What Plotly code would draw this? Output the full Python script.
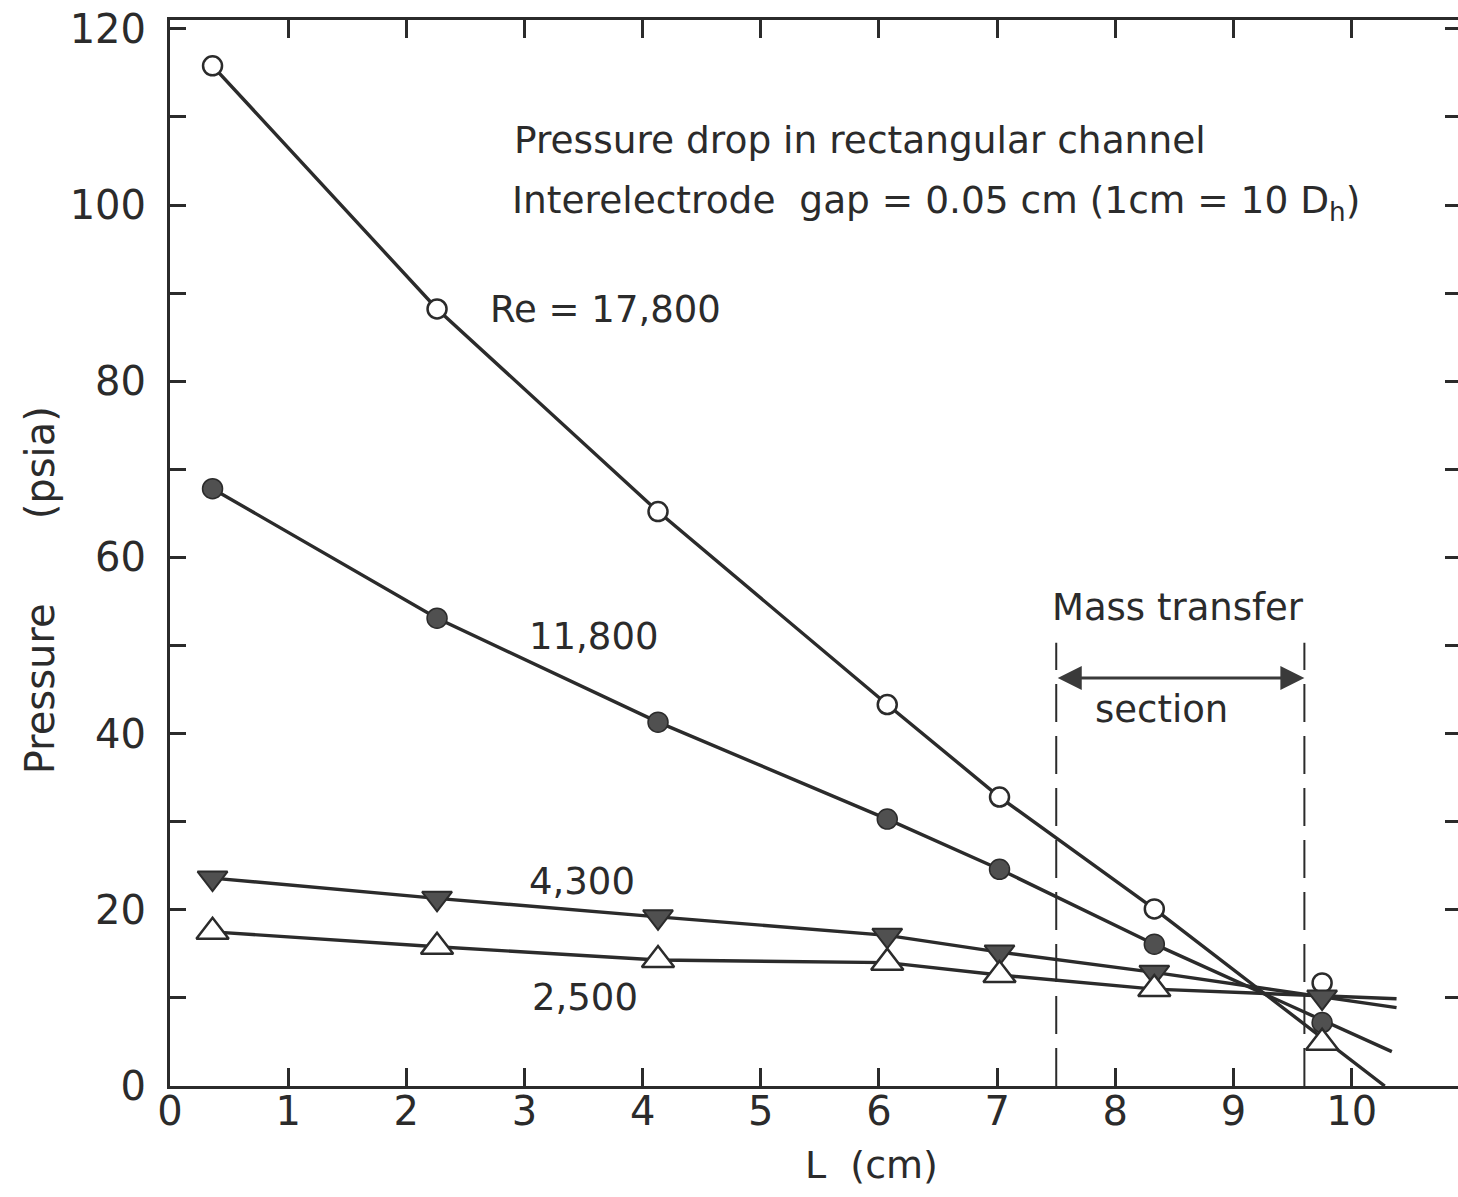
import plotly.graph_objects as go

# ---- data ----
L_cm = [0.36, 2.26, 4.13, 6.07, 7.02, 8.33, 9.75]          # axial position (cm)
p_re17800 = [115.8, 88.2, 65.2, 43.3, 32.8, 20.1, 11.7]    # open circles
p_re11800 = [67.8, 53.1, 41.3, 30.3, 24.6, 16.1, 7.2]      # filled circles
p_re4300 = [23.6, 21.3, 19.2, 17.1, 15.2, 12.9, 10.1]      # filled down triangles
p_re2500 = [17.5, 15.8, 14.3, 14.0, 12.6, 11.0, 4.9]       # open up triangles

# drawn curves: pass through the first six points, then run on to these end points
n_curve_pts = 6
curve_end_L = [10.28, 10.34, 10.38, 10.38]
curve_end_p = [0.0, 3.9, 8.9, 9.9]

series_labels = ["Re = 17,800", "11,800", "4,300", "2,500"]
mass_section_L = [7.5, 9.6]
mass_section_top = 50.3
arrow_p = 46.3

x_ticks = list(range(0, 11))
y_ticks = list(range(0, 121, 10))
y_ticktext = [str(v) if v % 20 == 0 else "" for v in y_ticks]

INK = "#2b2b2b"
FONT = "DejaVu Sans"

fig = go.Figure()

series = [p_re17800, p_re11800, p_re4300, p_re2500]
markers = [
    dict(symbol="circle", size=19, color="white", line=dict(color=INK, width=2.5)),
    dict(symbol="circle", size=20, color="#505050", line=dict(color=INK, width=1.5)),
    dict(symbol="triangle-down", size=26, color="#505050", line=dict(color=INK, width=2)),
    dict(symbol="triangle-up", size=28, color="white", line=dict(color=INK, width=2.5)),
]

# curves first (under markers)
for k, p in enumerate(series):
    fig.add_trace(go.Scatter(
        x=L_cm[:n_curve_pts] + [curve_end_L[k]],
        y=p[:n_curve_pts] + [curve_end_p[k]],
        mode="lines", line=dict(color=INK, width=3.4),
        showlegend=False, hoverinfo="skip"))

for k, p in enumerate(series):
    fig.add_trace(go.Scatter(
        x=L_cm, y=p, mode="markers", marker=markers[k],
        name=series_labels[k], showlegend=False))

# mass transfer section dashed boundaries
for xv in mass_section_L:
    fig.add_trace(go.Scatter(
        x=[xv, xv], y=[0, mass_section_top], mode="lines",
        line=dict(color=INK, width=2, dash="38px,14px"),
        showlegend=False, hoverinfo="skip"))

# invisible helper for the right-hand tick axis
fig.add_trace(go.Scatter(x=[None], y=[None], yaxis="y2", showlegend=False,
                         hoverinfo="skip"))

ann = [
    dict(x=2.89, y=107.4, text="Pressure drop in rectangular channel", size=37.5),
    dict(x=2.88, y=100.3, text="Interelectrode  gap = 0.05 cm (1cm = 10 D<sub>h</sub>)", size=37.5),
    dict(x=2.69, y=88.1, text=series_labels[0], size=37),
    dict(x=3.02, y=51.0, text=series_labels[1], size=37),
    dict(x=3.02, y=23.2, text=series_labels[2], size=37),
    dict(x=3.05, y=10.0, text=series_labels[3], size=37),
    dict(x=7.45, y=54.3, text="Mass transfer", size=37),
    dict(x=7.81, y=42.7, text="section", size=37),
]
for a in ann:
    fig.add_annotation(x=a["x"], y=a["y"], text=a["text"], showarrow=False,
                       xanchor="left", yanchor="middle",
                       font=dict(family=FONT, size=a["size"], color=INK))

# double-headed arrow
fig.add_annotation(x=mass_section_L[1], y=arrow_p, ax=mass_section_L[0], ay=arrow_p,
                   xref="x", yref="y", axref="x", ayref="y", text="",
                   showarrow=True, arrowside="end+start", arrowhead=2,
                   arrowsize=1.6, arrowwidth=3, arrowcolor="#3a3a3a")

# axis titles
fig.add_annotation(x=5.94, y=-0.074, xref="x", yref="paper", text="L  (cm)",
                   xanchor="center", yanchor="middle",
                   showarrow=False, font=dict(family=FONT, size=38, color=INK))
fig.add_annotation(x=-0.101, y=0.373, xref="paper", yref="paper", text="Pressure",
                   xanchor="center", yanchor="middle",
                   textangle=-90, showarrow=False, font=dict(family=FONT, size=40, color=INK))
fig.add_annotation(x=-0.101, y=0.585, xref="paper", yref="paper", text="(psia)",
                   xanchor="center", yanchor="middle",
                   textangle=-90, showarrow=False, font=dict(family=FONT, size=40, color=INK))

fig.update_layout(
    width=1458, height=1197,
    margin=dict(l=170, r=0, t=20, b=111),
    paper_bgcolor="white", plot_bgcolor="white",
    xaxis=dict(range=[0, 10.9], tickvals=x_ticks, ticks="inside", ticklen=18,
               tickwidth=2.5, tickcolor=INK, showline=True, linewidth=3,
               linecolor=INK, mirror="ticks", showgrid=False, zeroline=False,
               tickfont=dict(family=FONT, size=40, color=INK), ticklabelstandoff=-12),
    yaxis=dict(range=[0, 121], tickvals=y_ticks, ticktext=y_ticktext, ticks="inside",
               ticklen=16, tickwidth=2.5, tickcolor=INK, showline=True, linewidth=3,
               linecolor=INK, showgrid=False, zeroline=False,
               tickfont=dict(family=FONT, size=40, color=INK), ticklabelstandoff=13),
    yaxis2=dict(range=[0, 121], overlaying="y", side="right", anchor="x",
                tickvals=y_ticks, ticks="inside", ticklen=13, tickwidth=2.5,
                tickcolor=INK, showline=False, showgrid=False, zeroline=False,
                showticklabels=False),
)

fig.write_html("out.html")
